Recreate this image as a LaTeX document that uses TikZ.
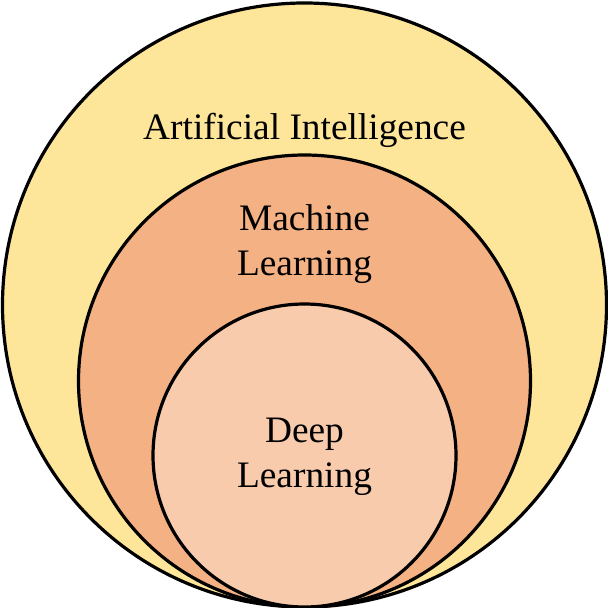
\documentclass[tikz,border=0pt]{standalone}
\usepackage{fontspec}
\setmainfont{Liberation Serif}
\definecolor{aiyellow}{HTML}{FDE59A}
\definecolor{mlorange}{HTML}{F4B183}
\definecolor{dlpeach}{HTML}{F8CBAD}
\begin{document}
\begin{tikzpicture}[x=1bp,y=-1bp,line width=3.2bp,
    fieldlabel/.style={anchor=base,align=center,font=\fontsize{37.5}{45}\selectfont}]
    \useasboundingbox (0,0) rectangle (608,608);
    \filldraw[fill=aiyellow] (304.5,305) circle (302);
    \filldraw[fill=mlorange] (304.5,381) circle (226);
    \filldraw[fill=dlpeach] (304.5,455.5) circle (151.5);
    \node(ai) at (304.5,140) [fieldlabel] {Artificial Intelligence};
    \node(ml) at (304.5,275) [fieldlabel] {Machine\\Learning};
    \node(dl) at (304.5,487) [fieldlabel] {Deep\\Learning};
\end{tikzpicture}
\end{document}
